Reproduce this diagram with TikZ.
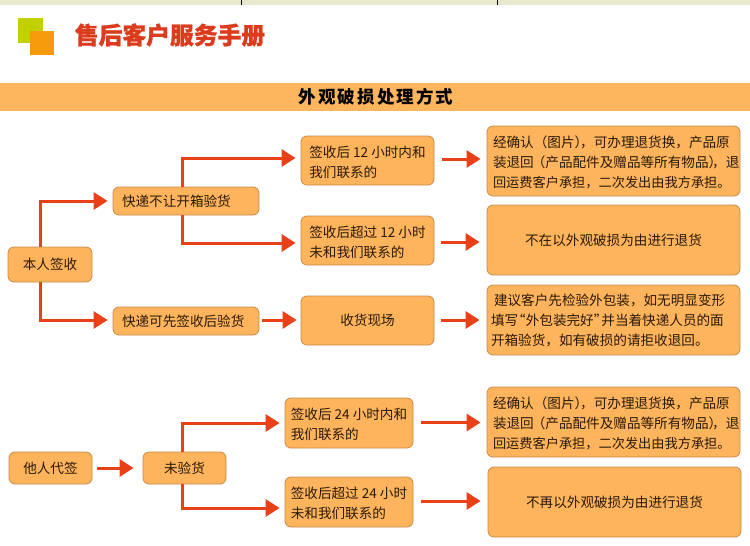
\documentclass[tikz,border=0pt]{standalone}
\usepackage{fontspec}
\usetikzlibrary{arrows.meta,calc}
\setmainfont{Noto Sans CJK SC}
\newfontfamily\bartitlefont[LetterSpace=12]{Noto Sans CJK SC}
\newfontfamily\headfont[BoldFeatures={FakeBold=0.8}]{Noto Sans CJK SC}
\definecolor{boxfill}{HTML}{FDB45C}
\definecolor{boxline}{HTML}{C98A48}
\definecolor{conn}{HTML}{EA4018}
\definecolor{titlered}{HTML}{DC3C1E}
\definecolor{barfill}{HTML}{FDB65E}
\definecolor{strip}{HTML}{E8E8CC}
\definecolor{inkc}{HTML}{2A1A08}
\newcommand\lowerit{\rule{0pt}{15pt}}
\tikzset{
  x=1pt,y=-1pt,
  bx/.style={draw=boxline,fill=boxfill,line width=0.8pt,rounded corners=6pt,inner sep=0pt,align=left,
    text=inkc,font=\fontsize{13.6}{20}\selectfont,anchor=center},
  arw/.style={draw=conn,line width=3pt,-{Triangle[length=14pt,width=17pt]}},
}
\begin{document}
\begin{tikzpicture}
\useasboundingbox (0,0) rectangle (750,546);
\fill[white] (0,0) rectangle (750,546);
\fill[strip] (0,0) rectangle (750,5);
\draw[black,line width=0.8pt] (241,0) -- (241,5);
\draw[black,line width=0.8pt] (497.5,0) -- (497.5,5);
\fill[fill=barfill] (0,83) rectangle (750,111);
\fill[fill={rgb,255:red,195;green,208;blue,0}] (18,18) rectangle (43,43);
\fill[fill={rgb,255:red,245;green,154;blue,10}] (30,31) rectangle (54,55);
\node[text=titlered,font=\fontsize{23.8}{26}\headfont\bfseries,inner sep=0pt] (title) at (170,35) {售后客户服务手册};
\node[text=black,font=\fontsize{17.5}{20}\bartitlefont\bfseries,inner sep=0pt] (bar) at (376,97) {外观破损处理方式};

\node[bx,minimum width=84,minimum height=35] (A) at (50,264.5) {本人签收};
\node[bx,minimum width=146,minimum height=28,text width=128] (B) at (186,201) {快递不让开箱验货};
\node[bx,minimum width=146,minimum height=28,text width=128] (C) at (186,321) {快递可先签收后验货};
\node[bx,minimum width=133,minimum height=49] (D) at (367.5,160.5) {\lowerit 签收后 12 小时内和\\我们联系的};
\node[bx,minimum width=133,minimum height=49] (E) at (367.5,240.5) {\lowerit 签收后超过 12 小时\\未和我们联系的};
\node[bx,minimum width=133,minimum height=49] (F) at (367.5,320.5) {收货现场};
\node[bx,minimum width=253,minimum height=70,text width=241] (G) at (613.5,161) {\lowerit 经确认（图片）\kern-8pt ，可办理退货换，产品原\\装退回\kern-2pt （产品配件及赠品等所有物品）\kern-10pt ，退\\{\fontsize{13.2}{20}\selectfont 回运费客户承担，二次发出由我方承担。}};
\node[bx,minimum width=253,minimum height=70] (H) at (613.5,240) {不在以外观破损为由进行退货};
\node[bx,minimum width=253,minimum height=70,text width=245] (I) at (613.5,320) {\hspace*{3pt}建议客户先检验外包装，如无明显变形\\填写\kern-6pt “外包装完好”\kern-6pt 并当着快递人员的面\\开箱验货，如有破损的请拒收退回。};
\node[bx,minimum width=83,minimum height=32] (J) at (50.5,468) {他人代签};
\node[bx,minimum width=83,minimum height=32] (K) at (184.5,468) {未验货};
\node[bx,minimum width=128,minimum height=50] (L) at (349,423) {\lowerit 签收后 24 小时内和\\我们联系的};
\node[bx,minimum width=128,minimum height=50] (M) at (349,502) {\lowerit 签收后超过 24 小时\\未和我们联系的};
\node[bx,minimum width=253,minimum height=70,text width=241] (N) at (613.5,422) {\lowerit 经确认（图片）\kern-8pt ，可办理退货换，产品原\\装退回\kern-2pt （产品配件及赠品等所有物品）\kern-10pt ，退\\{\fontsize{13.2}{20}\selectfont 回运费客户承担，二次发出由我方承担。}};
\node[bx,minimum width=253,minimum height=70] (O) at (614.5,502) {不再以外观破损为由进行退货};

\coordinate (xa) at (40,0);
\coordinate (xb) at (182,0);
\draw[arw,shorten >=5pt] (xa |- A.north) |- (B.west);
\draw[arw,shorten >=5pt] (xa |- A.south) |- ([yshift=1pt]C.west);
\draw[arw,shorten >=5pt] (xb |- B.north) |- ([yshift=2.5pt]D.west);
\draw[arw,shorten >=5pt] (xb |- B.south) |- ([yshift=-2.5pt]E.west);
\draw[arw,shorten <=3pt,shorten >=4pt] ([yshift=1pt]C.east) -- ([yshift=0.5pt]F.west);
\draw[arw,shorten <=8pt,shorten >=6pt] ([yshift=1.5pt]D.east) -- ([yshift=2pt]G.west);
\draw[arw,shorten <=7pt,shorten >=7pt] ([yshift=-1.5pt]E.east) -- ([yshift=-2pt]H.west);
\draw[arw,shorten <=7pt,shorten >=7pt] ([yshift=0.5pt]F.east) -- (I.west);
\draw[arw,shorten <=5pt,shorten >=9pt] (J.east) -- (K.west);
\coordinate (xk) at (182,0);
\draw[arw,shorten >=5pt] (xk |- K.north) |- (L.west);
\draw[arw,shorten >=5pt] (xk |- K.south) |- ([yshift=-6pt]M.west);
\draw[arw,shorten <=8pt,shorten >=6pt] ([yshift=0.5pt]L.east) -- ([yshift=-0.5pt]N.west);
\draw[arw,shorten <=8pt,shorten >=7pt] ([yshift=1pt]M.east) -- ([yshift=1pt]O.west);
\end{tikzpicture}
\end{document}
